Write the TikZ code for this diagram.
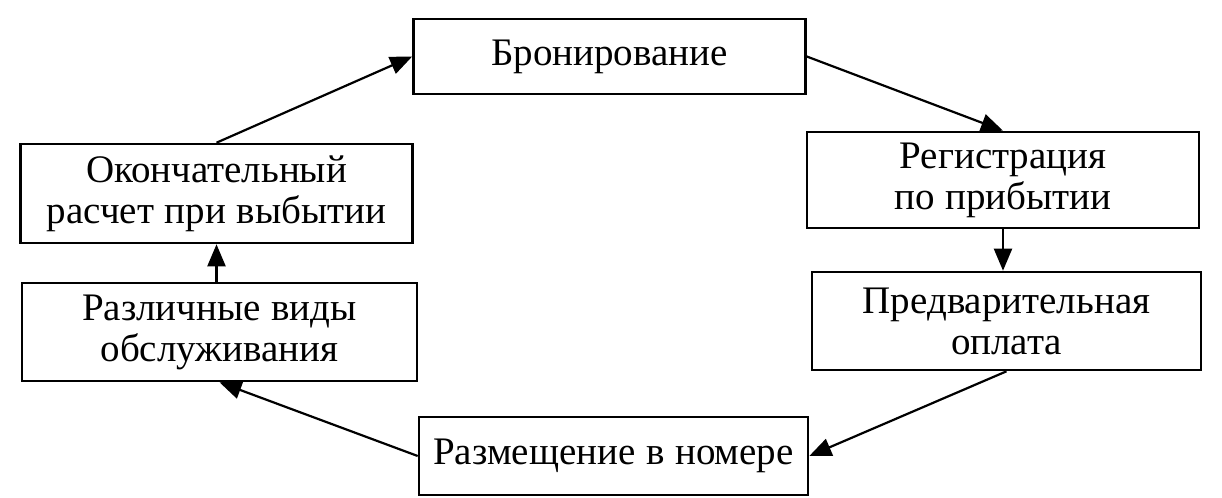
\documentclass[tikz,border=0pt]{standalone}
\usepackage{fontspec}
\setmainfont{Liberation Serif}[WordSpace=1.1]
\usetikzlibrary{arrows.meta}

\begin{document}
\begin{tikzpicture}[x=0.5pt,y=-0.5pt,>={Triangle[length=11pt,width=9pt]},
    stage/.style={draw,line width=1.3pt,align=center,minimum width=196pt,
      inner sep=0pt,font=\fontsize{19.5}{20.5}\selectfont},
    flow/.style={->,line width=1.1pt}]
      \useasboundingbox (0,0) rectangle (1222,498);
      \node[stage,minimum height=37.5pt] (bron) at (609.5,56.5) {Бронирование};
      \node[stage,minimum height=48pt] (reg) at (1003,180) {Регистрация\\по прибытии};
      \node[stage,minimum width=194.5pt,minimum height=49pt] (pred) at (1006.5,321) {Предварительная\\оплата};
      \node[stage,minimum width=194.5pt,minimum height=39pt] (razm) at (613.5,456) {Размещение в номере};
      \node[stage,minimum width=197.5pt,minimum height=49pt] (vidy) at (219.5,332) {Различные виды\\обслуживания};
      \node[stage,minimum height=49.5pt] (okon) at (216.5,193.5) {Окончательный\\расчет при выбытии};
      \draw[flow] (okon.north) -- (bron.west);
      \draw[flow] (bron.east) -- (reg.north);
      \draw[flow] (reg.south) -- (reg.south |- pred.north);
      \draw[flow] (pred.south) -- (razm.east);
      \draw[flow] (razm.west) -- (vidy.south);
      \draw[flow] (okon.south |- vidy.north) -- (okon.south);
\end{tikzpicture}
\end{document}
